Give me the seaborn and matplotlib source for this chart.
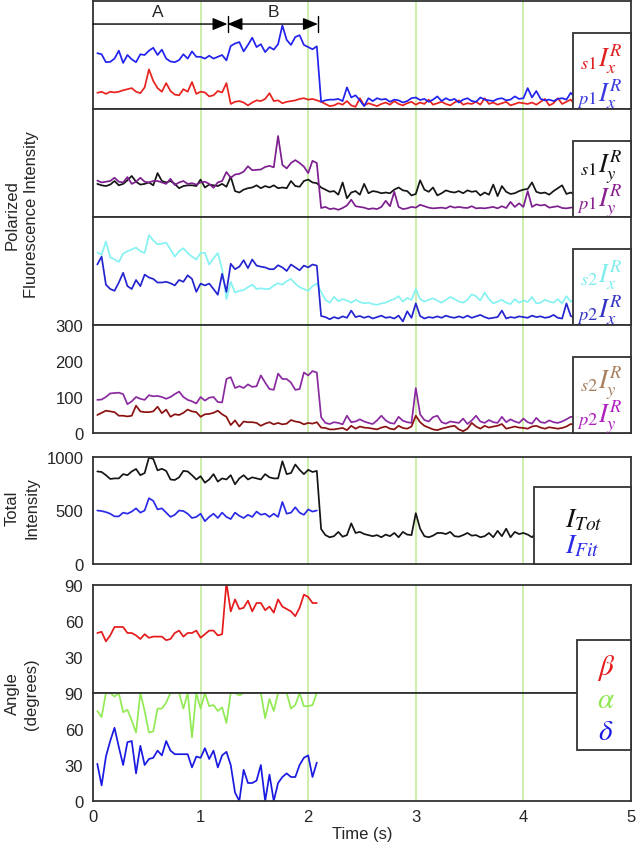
import numpy as np
import pandas as pd
import matplotlib
matplotlib.use("Agg")
import matplotlib.pyplot as plt
from matplotlib.patches import Rectangle
import seaborn as sns

# ---------------- data ----------------
# sampling grid (s): 112 frames of 40 ms
time_all = np.round(0.04 * np.arange(1, 113), 2)
time_fit = time_all[:52]

s1_Ix = ([45, 48, 42, 48, 46, 48, 52, 55, 58, 48, 44, 60, 110, 78, 58, 48, 72, 50, 40, 38,
          55, 48, 75, 42, 48, 46, 35, 38, 50, 46, 72]
         + [14, 20, 22, 18, 10, 18, 24, 22, 28, 44, 22, 24, 16, 20, 22, 24, 28, 30, 26, 28, 24]
         + [20, 14, 8, 10, 16, 12, 22, 10, 6, 30, 10, 16, 12, 8, 14, 18, 12, 22, 14, 10,
            16, 20, 12, 18, 14, 26, 12, 16, 20, 14, 10, 18, 24, 12, 16, 14, 20, 12, 30, 14,
            18, 12, 16, 20, 10, 14, 18, 16, 14, 18, 12, 20, 28, 10, 16, 30, 14, 20, 26, 12])
p1_Ix = ([155, 152, 130, 131, 140, 162, 128, 150, 138, 130, 152, 150, 162, 170, 150, 165, 140, 132, 130, 136,
          152, 140, 160, 145, 145, 140, 148, 140, 145, 150, 135]
         + [175, 182, 186, 160, 178, 198, 172, 180, 158, 172, 165, 180, 232, 192, 178, 200, 205, 178, 172, 166, 174]
         + [20, 24, 26, 26, 28, 22, 60, 32, 38, 24, 8, 30, 22, 30, 26, 28, 20, 26, 24, 18,
            22, 30, 32, 25, 28, 20, 26, 35, 22, 30, 24, 28, 18, 26, 30, 22, 20, 32, 26, 24,
            22, 28, 30, 24, 26, 35, 28, 30, 58, 32, 50, 28, 24, 26, 22, 28, 30, 26, 45, 32])

s1_Iy = ([92, 88, 86, 90, 100, 88, 92, 102, 114, 98, 90, 92, 96, 88, 122, 100, 96, 100, 92, 80,
          86, 88, 88, 86, 104, 82, 90, 88, 86, 92, 84]
         + [112, 72, 68, 76, 80, 82, 88, 80, 86, 82, 88, 80, 82, 80, 100, 86, 84, 100, 104, 96, 94]
         + [82, 76, 70, 72, 62, 96, 52, 68, 72, 62, 92, 66, 72, 70, 66, 68, 66, 76, 82, 74,
            72, 60, 64, 102, 76, 70, 82, 60, 66, 74, 70, 68, 72, 66, 74, 70, 72, 60, 68, 62,
            90, 58, 86, 70, 64, 66, 72, 76, 78, 96, 70, 66, 68, 62, 72, 80, 88, 64, 68, 62])
p1_Iy = ([101, 96, 98, 100, 109, 98, 96, 111, 92, 98, 109, 98, 96, 100, 100, 96, 92, 106, 89, 96,
          100, 92, 94, 90, 96, 98, 92, 81, 96, 100, 125]
         + [109, 118, 120, 126, 141, 130, 131, 132, 139, 142, 138, 225, 145, 135, 150, 158, 150, 140, 122, 156, 150]
         + [25, 28, 22, 24, 20, 25, 32, 48, 30, 28, 26, 22, 24, 22, 28, 45, 30, 70, 28, 22,
            24, 28, 26, 34, 30, 26, 24, 25, 26, 24, 30, 26, 28, 26, 25, 30, 24, 25, 24, 26,
            28, 24, 30, 25, 42, 28, 38, 28, 72, 28, 35, 32, 34, 26, 28, 30, 25, 24, 26, 28])

s2_Ix = ([201, 195, 232, 188, 182, 175, 198, 205, 210, 215, 205, 200, 250, 235, 224, 226, 229, 210, 190, 205,
          213, 200, 190, 182, 200, 200, 168, 185, 200, 155, 72]
         + [120, 90, 95, 97, 105, 112, 100, 102, 100, 100, 110, 116, 112, 122, 128, 115, 105, 100, 95, 108, 115]
         + [92, 70, 62, 78, 66, 72, 68, 62, 70, 64, 60, 62, 58, 56, 60, 62, 68, 72, 80, 65,
            75, 70, 100, 72, 65, 70, 74, 68, 62, 70, 78, 72, 65, 62, 70, 85, 80, 68, 90, 72,
            60, 65, 70, 62, 58, 72, 62, 68, 64, 78, 60, 62, 70, 65, 62, 72, 60, 80, 65, 70])
p2_Ix = ([168, 190, 112, 100, 95, 118, 145, 108, 100, 125, 108, 140, 132, 128, 118, 118, 120, 116, 110, 125,
          120, 138, 128, 92, 115, 110, 115, 100, 84, 142, 92]
         + [170, 155, 162, 180, 158, 182, 165, 162, 160, 155, 155, 166, 160, 150, 168, 160, 152, 165, 160, 168, 165]
         + [25, 22, 16, 22, 18, 24, 20, 40, 22, 25, 20, 24, 18, 22, 26, 20, 22, 18, 26, 10,
            38, 20, 60, 25, 18, 22, 20, 24, 20, 26, 22, 20, 24, 20, 26, 20, 24, 28, 22, 18,
            20, 22, 40, 18, 22, 20, 24, 22, 20, 26, 22, 24, 20, 22, 28, 20, 18, 60, 25, 20])

s2_Iy = ([50, 56, 62, 60, 58, 48, 48, 46, 48, 76, 60, 58, 58, 60, 73, 55, 65, 45, 52, 50,
          56, 65, 60, 58, 45, 52, 53, 56, 62, 52, 45]
         + [22, 35, 18, 32, 30, 30, 28, 20, 26, 30, 24, 28, 24, 26, 36, 32, 30, 24, 28, 26, 30]
         + [15, 14, 10, 10, 12, 14, 8, 20, 12, 18, 15, 14, 12, 10, 15, 18, 12, 10, 20, 14,
            12, 18, 48, 30, 20, 15, 10, 8, 12, 15, 18, 20, 10, 5, 12, 28, 18, 12, 20, 15,
            18, 20, 25, 12, 15, 18, 15, 14, 12, 18, 20, 15, 12, 16, 14, 12, 14, 18, 25, 22])
p2_Iy = ([92, 93, 100, 110, 111, 112, 108, 80, 88, 100, 95, 92, 105, 102, 103, 100, 95, 100, 108, 115,
          100, 92, 88, 82, 100, 90, 98, 100, 86, 85, 150]
         + [155, 125, 130, 125, 135, 128, 130, 160, 140, 122, 120, 165, 150, 150, 140, 120, 122, 168, 160, 172, 168]
         + [44, 28, 25, 30, 28, 24, 48, 30, 32, 38, 32, 28, 25, 35, 48, 35, 28, 26, 45, 34,
            30, 28, 125, 52, 36, 32, 44, 48, 30, 26, 32, 30, 28, 40, 25, 35, 48, 32, 28, 36,
            30, 28, 45, 30, 38, 32, 28, 40, 30, 26, 42, 30, 28, 35, 30, 28, 32, 38, 45, 45])

I_tot = ([865, 860, 830, 795, 800, 800, 840, 830, 865, 888, 830, 850, 995, 982, 875, 890, 870, 790, 785, 810,
          870, 865, 830, 790, 820, 760, 790, 840, 770, 800, 790]
         + [830, 745, 800, 830, 790, 810, 800, 790, 840, 810, 800, 800, 960, 840, 850, 930, 880, 840, 880, 860, 870]
         + [327, 270, 250, 260, 300, 255, 270, 380, 290, 300, 280, 270, 260, 270, 250, 275, 260, 290, 250, 300,
            275, 270, 475, 330, 260, 250, 265, 290, 290, 280, 300, 260, 255, 270, 290, 265, 270, 250, 260, 290,
            250, 310, 260, 330, 250, 300, 280, 290, 275, 250, 290, 260, 300, 270, 260, 280, 250, 290, 260, 270])
I_fit = [500, 495, 485, 470, 445, 445, 480, 470, 490, 520, 480, 500, 615, 590, 510, 520, 480, 440, 460, 500,
         495, 470, 430, 440, 470, 400, 440, 470, 430, 480, 440, 420,
         480, 450, 430, 460, 440, 490, 460, 470, 440, 470, 440, 580, 470, 480, 530, 480, 460, 510, 490, 500]

beta = [50, 51, 43, 48, 55, 55, 55, 50, 50, 48, 45, 49, 46, 47, 47, 47, 44, 45, 50, 52,
        47, 50, 50, 52, 46, 49, 52, 52, 48, 49, 92, 68, 78, 70, 71, 77, 68, 75, 75, 69,
        72, 67, 78, 72, 70, 68, 64, 71, 82, 80, 75, 75]
alpha = [75, 70, 90, 90, 87, 90, 74, 76, 67, 57, 90, 75, 57, 58, 77, 77, 82, 90, 90, 90,
         77, 90, 53, 90, 77, 90, 79, 80, 75, 78, 65, 90, 90, 88, 90, 90, 90, 90, 90, 69,
         85, 75, 90, 90, 90, 77, 80, 90, 79, 79, 80, 90]
delta = [31, 13, 37, 50, 61, 45, 30, 49, 50, 23, 46, 30, 35, 36, 42, 38, 50, 42, 39, 39,
         39, 39, 28, 37, 36, 44, 35, 42, 28, 38, 41, 30, 7, 0, 26, 15, 15, 17, 30, 0,
         22, 0, 15, 20, 23, 20, 20, 30, 36, 38, 20, 32]

pol_labels = [(r'${}_{s1}I_{x}^{R}$', r'${}_{p1}I_{x}^{R}$'),
              (r'${}_{s1}I_{y}^{R}$', r'${}_{p1}I_{y}^{R}$'),
              (r'${}_{s2}I_{x}^{R}$', r'${}_{p2}I_{x}^{R}$'),
              (r'${}_{s2}I_{y}^{R}$', r'${}_{p2}I_{y}^{R}$')]
pol_ticks = [0, 100, 200, 300]
tot_ticks = [0, 500, 1000]
angle_ticks = [0, 30, 60, 90]
x_ticks = [0, 1, 2, 3, 4, 5]
marker_times = [1, 2, 3, 4]

# ---------------- style ----------------
sns.set_style("white")
plt.rcParams['font.family'] = ['Liberation Sans', 'DejaVu Sans']
plt.rcParams['mathtext.fontset'] = 'stix'

W_PX, H_PX = 637, 853
fig = plt.figure(figsize=(W_PX / 100, H_PX / 100), dpi=100)

L_PX, R_PX = 93, 631
def rect(top, bottom):
    return [L_PX / W_PX, 1 - bottom / H_PX, (R_PX - L_PX) / W_PX, (bottom - top) / H_PX]

SPINE = '#333333'
GREEN = '#c3eb9c'
LW = 1.25
TICKFS = 12

def style_ax(ax, ylim, yticks, ylabels, bottom=False):
    ax.set_xlim(0, 5)
    ax.set_ylim(*ylim)
    ax.set_yticks(yticks)
    ax.set_yticklabels(ylabels, fontsize=TICKFS)
    for s in ax.spines.values():
        s.set_color(SPINE)
        s.set_linewidth(1.3)
        s.set_visible(True)
    ax.tick_params(axis='y', direction='out', length=5, width=1, color=SPINE, pad=2)
    if bottom:
        ax.set_xticks(x_ticks)
        ax.set_xticklabels([str(v) for v in x_ticks], fontsize=TICKFS)
        ax.tick_params(axis='x', length=0, pad=6)
    else:
        ax.set_xticks([])
    ax.set_xlabel('')
    ax.set_ylabel('')
    for v in marker_times:
        ax.axvline(v, color=GREEN, lw=1.2, zorder=0.5)

def legend_box(ax, x0, h):
    ax.add_patch(Rectangle((x0, 0), 1 - x0, h, transform=ax.transAxes, fc='white',
                           ec=SPINE, lw=1.3, zorder=5, clip_on=False))

# polarized panels
pol_series = [(s1_Ix, '#e8221e', p1_Ix, '#2222ee', '#e02020', '#3a3ae0'),
              (s1_Iy, '#151515', p1_Iy, '#7d1f8f', '#111111', '#8a2090'),
              (s2_Ix, '#86f2f2', p2_Ix, '#2424d0', '#80eeee', '#3434c4'),
              (p2_Iy, '#8b2aa0', s2_Iy, '#8b1212', '#a88060', '#b020c0')]
bounds = [2, 110, 218, 326, 434]
for i, (a, ca, b, cb, la, lb) in enumerate(pol_series):
    ax = fig.add_axes(rect(bounds[i], bounds[i + 1]))
    sns.lineplot(x=time_all, y=a, ax=ax, color=ca, lw=LW, legend=False)
    sns.lineplot(x=time_all, y=b, ax=ax, color=cb, lw=LW, legend=False)
    if i == 3:
        style_ax(ax, (0, 300), pol_ticks, [str(v) for v in pol_ticks])
    else:
        style_ax(ax, (0, 300), pol_ticks, ['' for v in pol_ticks])
    legend_box(ax, 0.892, 0.70)
    ax.text(0.985, 0.47, pol_labels[i][0], transform=ax.transAxes, ha='right', va='center',
            fontsize=19, color=la, zorder=6)
    ax.text(0.985, 0.15, pol_labels[i][1], transform=ax.transAxes, ha='right', va='center',
            fontsize=19, color=lb, zorder=6)
    if i == 0:
        ay = 236
        ax.annotate('', xy=(1.25, ay), xytext=(0, ay),
                    arrowprops=dict(arrowstyle='-|>,head_length=0.6,head_width=0.25', color='k',
                                    lw=1, shrinkA=0, shrinkB=0, mutation_scale=15))
        ax.annotate('', xy=(2.09, ay), xytext=(1.25, ay),
                    arrowprops=dict(arrowstyle='<|-|>,head_length=0.6,head_width=0.25', color='k',
                                    lw=1, shrinkA=0, shrinkB=0, mutation_scale=15))
        for xm in (1.25, 2.09):
            ax.plot([xm, xm], [214, 258], color='k', lw=1)
        ax.text(0.6, 272, 'A', ha='center', va='center', fontsize=12.5)
        ax.text(1.68, 272, 'B', ha='center', va='center', fontsize=12.5)

# total intensity
ax5 = fig.add_axes(rect(458, 565))
sns.lineplot(x=time_all, y=I_tot, ax=ax5, color='#151515', lw=LW, legend=False)
sns.lineplot(x=time_fit, y=I_fit, ax=ax5, color='#2a2ae8', lw=LW, legend=False)
style_ax(ax5, (0, 1000), tot_ticks, [str(v) for v in tot_ticks])
legend_box(ax5, 0.82, 0.72)
ax5.text(0.877, 0.42, r'$I_{Tot}$', transform=ax5.transAxes, ha='left', va='center',
         fontsize=20, color='#111111', zorder=6)
ax5.text(0.877, 0.17, r'$I_{Fit}$', transform=ax5.transAxes, ha='left', va='center',
         fontsize=20, color='#2a2ae8', zorder=6)

# angle panels
ax6 = fig.add_axes(rect(586, 694))
sns.lineplot(x=time_fit, y=beta, ax=ax6, color='#e41a1c', lw=LW, legend=False)
style_ax(ax6, (0, 90), angle_ticks[1:], [str(v) for v in angle_ticks[1:]])
ax7 = fig.add_axes(rect(694, 802))
sns.lineplot(x=time_fit, y=alpha, ax=ax7, color='#92ea55', lw=LW, legend=False)
sns.lineplot(x=time_fit, y=delta, ax=ax7, color='#1a1ae0', lw=LW, legend=False)
style_ax(ax7, (0, 90), angle_ticks, [str(v) for v in angle_ticks], bottom=True)

bx0, bx1, by0, by1 = 577, 631, 641, 751
fig.add_artist(Rectangle((bx0 / W_PX, 1 - by1 / H_PX), (bx1 - bx0) / W_PX, (by1 - by0) / H_PX,
                         transform=fig.transFigure, fc='white', ec=SPINE, lw=1.3, zorder=3))
for sym, col, ypx in [(r'$\beta$', '#e41a1c', 668), (r'$\alpha$', '#8fe850', 700), (r'$\delta$', '#1a1ae0', 732)]:
    fig.text(606 / W_PX, 1 - ypx / H_PX, sym, ha='center', va='center', fontsize=21, color=col, zorder=4)

# axis titles
fig.text(22 / W_PX, 1 - 215 / H_PX, 'Polarized\nFluorescence Intensity', rotation=90,
         ha='center', va='center', fontsize=TICKFS, linespacing=1.35, multialignment='center')
fig.text(22 / W_PX, 1 - 508 / H_PX, 'Total\nIntensity', rotation=90,
         ha='center', va='center', fontsize=TICKFS, linespacing=1.35, multialignment='center')
fig.text(22 / W_PX, 1 - 694 / H_PX, 'Angle\n(degrees)', rotation=90,
         ha='center', va='center', fontsize=TICKFS, linespacing=1.35, multialignment='center')
fig.text(362 / W_PX, 1 - 835 / H_PX, 'Time (s)', ha='center', va='center', fontsize=TICKFS)

fig.savefig('out.png', dpi=100)
